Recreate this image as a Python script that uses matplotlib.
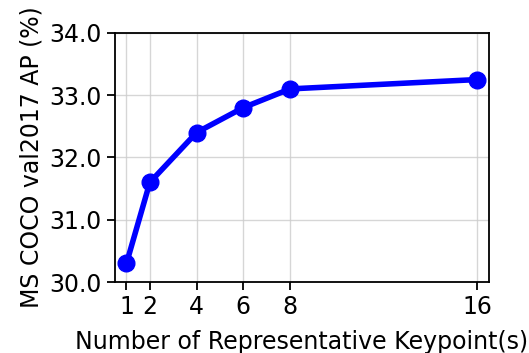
import matplotlib
matplotlib.use("Agg")
import matplotlib.pyplot as plt

# number of representative keypoints vs. AP on val2017
num_keypoints = [1, 2, 4, 6, 8, 16]
ap_values = [30.3, 31.6, 32.4, 32.8, 33.1, 33.25]
y_ticks = [30.0, 31.0, 32.0, 33.0, 34.0]

fig = plt.figure(figsize=(5.29, 3.53), dpi=100)
ax = fig.add_axes([0.217, 0.201, 0.707, 0.706])  # llx, lly, w, h

ax.plot(num_keypoints, ap_values, color='blue', linewidth=4,
        marker='o', markersize=12)

ax.set_xlim(0.5, 16.5)
ax.set_ylim(30.0, 34.0)
ax.set_xticks(num_keypoints)
ax.set_yticks(y_ticks)
ax.set_yticklabels(['%.1f' % v for v in y_ticks])
ax.tick_params(labelsize=17, width=1.3, length=6)
for s in ax.spines.values():
    s.set_linewidth(1.3)
ax.grid(True, color='#cccccc', linewidth=1.0, alpha=0.8)

ax.set_xlabel('Number of Representative Keypoint(s)', fontsize=17, labelpad=8)
ax.set_ylabel('MS COCO val2017 AP (%)', fontsize=17)

fig.savefig('out.png', dpi=100)
